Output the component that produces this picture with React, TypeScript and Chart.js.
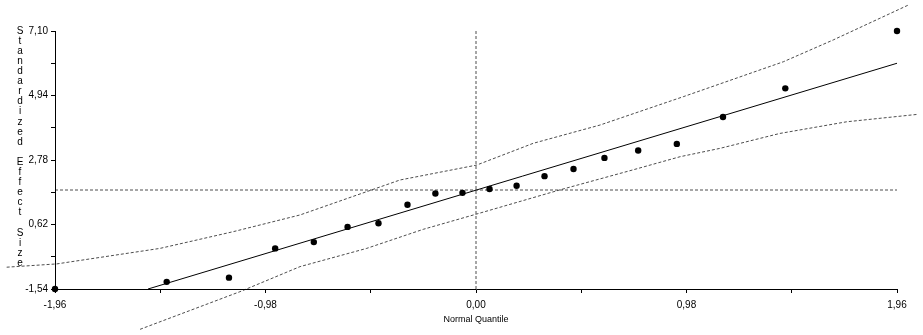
import React, { useEffect, useRef } from "react";
import { Chart, registerables } from "chart.js";

Chart.register(...registerables);

// Normal quantiles (x) and standardized effect sizes (y)
const quantiles = [-1.96, -1.44, -1.15, -0.935, -0.755, -0.598, -0.454, -0.319, -0.189, -0.063,
  0.063, 0.189, 0.319, 0.454, 0.598, 0.755, 0.935, 1.15, 1.44, 1.96];
const effects = [-1.54, -1.30, -1.16, -0.18, 0.03, 0.54, 0.66, 1.28, 1.66, 1.68,
  1.81, 1.92, 2.24, 2.48, 2.85, 3.10, 3.32, 4.22, 5.18, 7.10];

// Fitted line end points
const fitX = [-1.527, 1.96];
const fitY = [-1.54, 6.02];

// Upper confidence band
const upperX = [-2.185, -1.952, -1.471, -1.13, -0.819, -0.354, 0.003, 0.267, 0.577, 0.965, 1.431, 1.663, 2.013];
const upperY = [-0.81, -0.70, -0.18, 0.38, 0.94, 2.11, 2.61, 3.34, 3.95, 4.90, 6.07, 6.80, 7.97];

// Lower confidence band
const lowerX = [-1.564, -1.099, -0.819, -0.509, -0.245, 0.003, 0.391, 0.731, 0.95, 1.136, 1.415, 1.726, 2.058];
const lowerY = [-2.89, -1.63, -0.79, -0.18, 0.46, 0.97, 1.78, 2.45, 2.89, 3.17, 3.67, 4.06, 4.31];

// Reference lines
const meanEffect = 1.775;
const xMin = -1.96;
const xMax = 1.96;
const yMin = -1.54;
const yMax = 7.10;

// Ticks
const xTickValues = [-1.96, -1.47, -0.98, -0.49, 0, 0.49, 0.98, 1.47, 1.96];
const xTickLabels = ["-1,96", "", "-0,98", "", "0,00", "", "0,98", "", "1,96"];
const yTickValues = [-1.54, -0.46, 0.62, 1.70, 2.78, 3.86, 4.94, 6.02, 7.10];
const yTickLabels = ["-1,54", "", "0,62", "", "2,78", "", "4,94", "", "7,10"];

const xTitle = "Normal Quantile";
const yTitle = "Standardized Effect Size";

const FONT = "'Liberation Sans', Arial, sans-serif";

const pts = (xs: number[], ys: number[]) => xs.map((x, i) => ({ x, y: ys[i] }));

export default function App() {
  const ref = useRef<HTMLCanvasElement | null>(null);

  useEffect(() => {
    if (!ref.current) return;
    const dash = "rgba(0,0,0,0.7)";
    const yTitlePlugin = {
      id: "yTitleStack",
      afterDraw(chart: any) {
        const ctx = chart.ctx;
        ctx.save();
        ctx.fillStyle = "#000";
        ctx.font = `10px ${FONT}`;
        ctx.textAlign = "center";
        ctx.textBaseline = "middle";
        const chars = yTitle.split("");
        const top = chart.chartArea.top;
        const step = 10.09;
        chars.forEach((c, i) => {
          if (c !== " ") ctx.fillText(c, 20, top + i * step);
        });
        ctx.restore();
      },
    };

    const chart = new Chart(ref.current, {
      type: "scatter",
      data: {
        datasets: [
          {
            label: "effects",
            data: pts(quantiles, effects),
            showLine: false,
            pointRadius: 3.2,
            pointBackgroundColor: "#000",
            pointBorderColor: "#000",
            pointBorderWidth: 0,
            clip: false,
          } as any,
          {
            label: "fit",
            data: pts(fitX, fitY),
            showLine: true,
            borderColor: "#000",
            borderWidth: 1,
            pointRadius: 0,
            clip: false,
          },
          {
            label: "upper",
            data: pts(upperX, upperY),
            showLine: true,
            borderColor: dash,
            borderWidth: 1,
            borderDash: [3, 2],
            pointRadius: 0,
            tension: 0,
            clip: false,
          },
          {
            label: "lower",
            data: pts(lowerX, lowerY),
            showLine: true,
            borderColor: dash,
            borderWidth: 1,
            borderDash: [3, 2],
            pointRadius: 0,
            tension: 0,
            clip: false,
          },
          {
            label: "mean",
            data: pts([xMin, xMax], [meanEffect, meanEffect]),
            showLine: true,
            borderColor: dash,
            borderWidth: 1,
            borderDash: [3, 2],
            pointRadius: 0,
            clip: false,
          },
          {
            label: "zero",
            data: pts([0, 0], [yMin, yMax]),
            showLine: true,
            borderColor: dash,
            borderWidth: 1,
            borderDash: [3, 2],
            pointRadius: 0,
            clip: false,
          },
        ],
      },
      options: {
        animation: false,
        responsive: false,
        maintainAspectRatio: false,
        layout: { padding: { top: 31, right: 26, left: 0, bottom: 0 } },
        plugins: {
          legend: { display: false },
          tooltip: { enabled: false },
        },
        scales: {
          x: {
            type: "linear",
            min: xMin,
            max: xMax,
            afterBuildTicks: (s: any) => {
              s.ticks = xTickValues.map((v) => ({ value: v }));
            },
            afterFit: (s: any) => {
              s.height = 46;
            },
            ticks: {
              autoSkip: false,
              maxRotation: 0,
              padding: 6,
              color: "#000",
              font: { family: FONT, size: 10 },
              callback: (_v: any, i: number) => xTickLabels[i],
            },
            grid: {
              display: true,
              drawOnChartArea: false,
              drawTicks: true,
              tickLength: 4,
              color: "#000",
            },
            border: { display: true, color: "#000", width: 1 },
            title: {
              display: true,
              text: xTitle,
              color: "#000",
              font: { family: FONT, size: 9 },
              padding: { top: 0, bottom: 10 },
            },
          },
          y: {
            type: "linear",
            min: yMin,
            max: yMax,
            afterBuildTicks: (s: any) => {
              s.ticks = yTickValues.map((v) => ({ value: v }));
            },
            afterFit: (s: any) => {
              s.width = 55;
            },
            ticks: {
              autoSkip: false,
              padding: 3,
              color: "#000",
              font: { family: FONT, size: 10 },
              callback: (_v: any, i: number) => yTickLabels[i],
            },
            grid: {
              display: true,
              drawOnChartArea: false,
              drawTicks: true,
              tickLength: 4,
              color: "#000",
            },
            border: { display: true, color: "#000", width: 1 },
          },
        },
      },
      plugins: [yTitlePlugin],
    });
    return () => chart.destroy();
  }, []);

  return (
    <div style={{ position: "fixed", left: 0, top: 0, width: 923, height: 335, background: "#fff" }}>
      <canvas ref={ref} width={923} height={335} style={{ display: "block" }} />
    </div>
  );
}
